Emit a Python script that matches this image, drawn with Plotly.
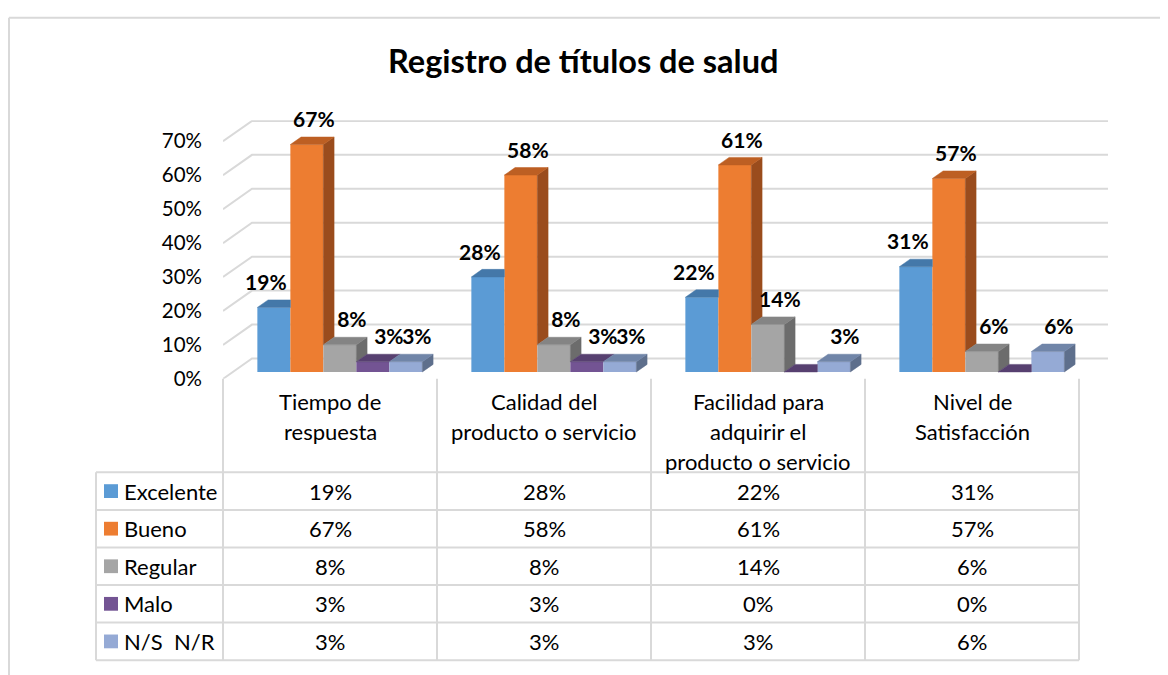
import plotly.graph_objects as go

# ---------------- data ----------------
categories = [
    "Tiempo de\nrespuesta",
    "Calidad del\nproducto o servicio",
    "Facilidad para\nadquirir el\nproducto o servicio",
    "Nivel de\nSatisfacción",
]
series_names = ["Excelente", "Bueno", "Regular", "Malo", "N/S  N/R"]
excelente = [19, 28, 22, 31]
bueno = [67, 58, 61, 57]
regular = [8, 8, 14, 6]
malo = [3, 3, 0, 0]
ns_nr = [3, 3, 3, 6]
y_tick_values = [0, 10, 20, 30, 40, 50, 60, 70]
y_tick_labels = ["0%", "10%", "20%", "30%", "40%", "50%", "60%", "70%"]
title_text = "Registro de títulos de salud"

series_values = [excelente, bueno, regular, malo, ns_nr]

# ---------------- styles ----------------
front_colors = ["#5B9BD5", "#ED7D31", "#A5A5A5", "#735493", "#95AAD5"]
top_colors = ["#4478A9", "#BD5F23", "#848484", "#574070", "#7085A8"]
side_colors = ["#3A6690", "#9A4C1D", "#6C6C6C", "#47345C", "#5E6F8C"]
label_shift_px = [-8, 7, 12, 16, 11]
FONT = "Lato, 'Open Sans', sans-serif"
GRID = "#D9D9D9"

# page offset of the figure inside the browser window
X_OFF, Y_OFF = 8, 0
W, H = 1168 - 2 * X_OFF, 675


def xp(px):
    return (px - X_OFF) / W


def yp(py):
    return 1 - (py - Y_OFF) / H


CAT_PX = 214.0       # width of one category in pixels
X_LEFT = 223.0       # pixel of left edge of the first category
Y_ZERO = 377.0       # pixel of 0% on the front plane
PX_PCT = 3.45        # pixels per 1%
Y_TOP = 76.2
DX = 29.0 / CAT_PX   # depth of the 3D box, x data units
DY = 20.7 / PX_PCT   # depth of the 3D box, y data units
D0, D1 = 0.34, 0.71  # bar depth span (fraction of total depth)
BW = 33.0 / CAT_PX
BASE = D0 * DY
TDX = (D1 - D0) * DX
TDY = (D1 - D0) * DY

n = len(categories)
x_range = [-0.5, n - 0.5 + DX]
x_dom = [xp(X_LEFT), xp(X_LEFT + CAT_PX * (x_range[1] - x_range[0]))]
y_dom = [yp(Y_ZERO), yp(Y_ZERO - PX_PCT * Y_TOP)]
idx = list(range(n))

fig = go.Figure()

# front faces (real bars)
offsets = []
for j, vals in enumerate(series_values):
    off = D0 * DX + (j - len(series_values) / 2) * BW
    offsets.append(off)
    fig.add_trace(go.Bar(
        x=idx, y=vals, base=BASE, width=BW, offset=off,
        marker=dict(color=front_colors[j], line=dict(width=0)),
        name=series_names[j], showlegend=False,
        hovertemplate=series_names[j] + ": %{y}%<extra></extra>",
    ))

# 3D side and top faces
for j, vals in enumerate(series_values):
    off = offsets[j]
    nxt = series_values[j + 1] if j + 1 < len(series_values) else [0] * n
    sx, sy, tx, ty = [], [], [], []
    for i, v in enumerate(vals):
        x0 = i + off
        x1 = x0 + BW
        t = BASE + v
        vn = nxt[i]
        if v > vn:
            lo = BASE + vn
            sx += [x1, x1, x1 + TDX, x1 + TDX, x1, None]
            sy += [lo, t, t + TDY, lo + TDY, lo, None]
        if vn - v >= TDY:
            tx += [x0, x1, x1, x0 + TDX, x0, None]
            ty += [t, t, t + TDY, t + TDY, t, None]
        else:
            tx += [x0, x1, x1 + TDX, x0 + TDX, x0, None]
            ty += [t, t, t + TDY, t + TDY, t, None]
    if sx:
        fig.add_trace(go.Scatter(
            x=sx, y=sy, mode="lines", fill="toself", fillcolor=side_colors[j],
            line=dict(width=0.5, color=side_colors[j]), hoverinfo="skip", showlegend=False))
    fig.add_trace(go.Scatter(
        x=tx, y=ty, mode="lines", fill="toself", fillcolor=top_colors[j],
        line=dict(width=0.5, color=top_colors[j]), hoverinfo="skip", showlegend=False))

# data labels
for j, vals in enumerate(series_values):
    fig.add_trace(go.Scatter(
        x=[i + offsets[j] + BW / 2 + label_shift_px[j] / CAT_PX for i in idx],
        y=[BASE + v + 23 / PX_PCT for v in vals],
        text=[f"{v}%" if v > 0 else "" for v in vals],
        mode="text", textposition="middle center",
        textfont=dict(family=FONT, size=21, color="#000000", weight="bold"),
        cliponaxis=False, hoverinfo="skip", showlegend=False,
    ))

shapes = []
# 3D gridlines (floor diagonal + back wall)
for v in y_tick_values:
    path = (f"M {x_range[0]},{v} L {x_range[0] + DX},{v + DY} "
            f"L {x_range[1]},{v + DY}")
    shapes.append(dict(type="path", xref="x", yref="y", path=path,
                       line=dict(color=GRID, width=2), layer="below"))

# data table
T_LEFT = 96.0
T_TOP = 472.0
ROW_H = 38.2
n_rows = len(series_values)
T_BOTTOM = T_TOP + ROW_H * n_rows
T_RIGHT = X_LEFT + CAT_PX * n
for k in range(n + 1):
    px = X_LEFT + CAT_PX * k
    shapes.append(dict(type="line", xref="paper", yref="paper",
                       x0=xp(px), x1=xp(px), y0=yp(Y_ZERO), y1=yp(T_BOTTOM),
                       line=dict(color=GRID, width=2)))
shapes.append(dict(type="line", xref="paper", yref="paper",
                   x0=xp(T_LEFT), x1=xp(T_LEFT), y0=yp(T_TOP), y1=yp(T_BOTTOM),
                   line=dict(color=GRID, width=2)))
for r in range(n_rows + 1):
    py = T_TOP + ROW_H * r
    shapes.append(dict(type="line", xref="paper", yref="paper",
                       x0=xp(T_LEFT), x1=xp(T_RIGHT), y0=yp(py), y1=yp(py),
                       line=dict(color=GRID, width=2)))

TABLE_FONT = dict(family=FONT, size=22, color="#000000")
annotations = []
# title
annotations.append(dict(
    x=xp(583), xref="paper", y=yp(53), yref="paper",
    text=f"<b>{title_text}</b>", showarrow=False,
    xanchor="center", yanchor="middle",
    font=dict(family=FONT, size=32.5, color="#000000")))

# category headers
for i, cat in enumerate(categories):
    for k, line in enumerate(cat.split("\n")):
        annotations.append(dict(
            x=i, xref="x", y=yp(400 + 30.5 * k), yref="paper", text=line,
            showarrow=False, xanchor="center", yanchor="middle",
            font=TABLE_FONT))

# rows: legend key + values
for j, vals in enumerate(series_values):
    cy = T_TOP + ROW_H * (j + 0.5)
    shapes.append(dict(type="rect", xref="paper", yref="paper",
                       x0=xp(104), x1=xp(118), y0=yp(cy - 7), y1=yp(cy + 7),
                       fillcolor=front_colors[j], line=dict(width=0)))
    annotations.append(dict(
        x=xp(122), xref="paper", y=yp(cy), yref="paper",
        text=series_names[j].replace("  ", "\u00a0 "),
        showarrow=False, xanchor="left", yanchor="middle",
        font=TABLE_FONT))
    for i, v in enumerate(vals):
        annotations.append(dict(
            x=i, xref="x", y=yp(cy), yref="paper", text=f"{v}%",
            showarrow=False, xanchor="center", yanchor="middle",
            font=TABLE_FONT))

# chart area border
shapes.append(dict(type="line", xref="paper", yref="paper",
                   x0=xp(9), x1=xp(9), y0=yp(10), y1=yp(700),
                   line=dict(color=GRID, width=2)))
shapes.append(dict(type="line", xref="paper", yref="paper",
                   x0=xp(9), x1=xp(1200), y0=yp(10), y1=yp(10),
                   line=dict(color=GRID, width=2)))

fig.update_layout(
    width=W, height=H, autosize=False,
    margin=dict(l=0, r=0, t=0, b=0),
    paper_bgcolor="#FFFFFF", plot_bgcolor="rgba(0,0,0,0)",
    barmode="overlay",
    xaxis=dict(domain=x_dom, range=x_range, visible=False, fixedrange=True),
    yaxis=dict(domain=y_dom, range=[0, Y_TOP], tickvals=y_tick_values,
               ticktext=y_tick_labels, showgrid=False, zeroline=False,
               showline=False, ticks="", ticklabelstandoff=20,
               tickfont=dict(family=FONT, size=20.5, color="#000000"),
               fixedrange=True),
    shapes=shapes,
    annotations=annotations,
    showlegend=False,
)

fig.write_html("out.html")
